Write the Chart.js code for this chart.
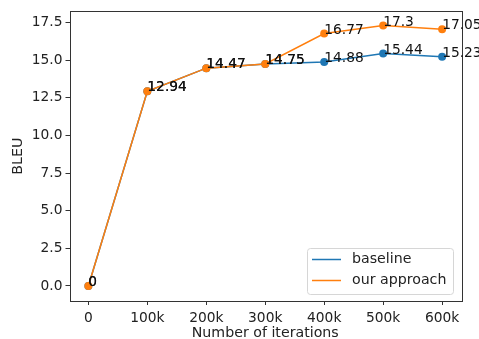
<!DOCTYPE html>
<html>
<head>
<meta charset="utf-8">
<script src="https://cdn.jsdelivr.net/npm/chart.js@4"></script>
<style>
  html, body { margin: 0; padding: 0; background: #fff; }
  #wrap { width: 479px; height: 339px; }
</style>
</head>
<body>
<div id="wrap"><canvas id="chart" width="479" height="339"></canvas></div>
<script>
// values
const iterations = [0, 100000, 200000, 300000, 400000, 500000, 600000];
const baseline = [0, 12.94, 14.47, 14.75, 14.88, 15.44, 15.23];
const ourApproach = [0, 12.94, 14.47, 14.75, 16.77, 17.3, 17.05];
const xTicks = [0, 100000, 200000, 300000, 400000, 500000, 600000];
const yTicks = [0, 2.5, 5, 7.5, 10, 12.5, 15, 17.5];

const FONT = 'DejaVu Sans';
const BLUE = '#1f77b4';
const ORANGE = '#ff7f0e';

const toPoints = (ys) => iterations.map((x, i) => ({ x: x, y: ys[i] }));

// frame, value labels and legend, drawn like matplotlib does
const extras = {
  id: 'extras',
  afterDatasetsDraw(chart) {
    const ctx = chart.ctx;
    const a = chart.chartArea;
    const xs = chart.scales.x, ys = chart.scales.y;
    ctx.save();
    ctx.strokeStyle = '#333';
    ctx.lineWidth = 1;
    ctx.strokeRect(Math.round(a.left) + 0.5, Math.round(a.top) + 0.5,
      Math.round(a.right - a.left), Math.round(a.bottom - a.top));

    ctx.font = '13.8px ' + FONT;
    ctx.fillStyle = '#111';
    ctx.textAlign = 'left';
    ctx.textBaseline = 'alphabetic';
    chart.data.datasets.forEach(ds => {
      ds.data.forEach(p => {
        ctx.fillText(String(p.y), xs.getPixelForValue(p.x), ys.getPixelForValue(p.y));
      });
    });

    // legend, lower right
    const bx = 307, by = 248, bw = 146, bh = 46;
    ctx.beginPath();
    ctx.roundRect(bx + 0.5, by + 0.5, bw, bh, 3);
    ctx.fillStyle = 'rgba(255,255,255,0.8)';
    ctx.fill();
    ctx.strokeStyle = '#d6d6d6';
    ctx.stroke();
    ctx.font = '14.2px ' + FONT;
    ctx.textBaseline = 'middle';
    chart.data.datasets.forEach((ds, i) => {
      const yy = by + 11.5 + i * 21;
      ctx.strokeStyle = ds.borderColor;
      ctx.lineWidth = 1.5;
      ctx.beginPath();
      ctx.moveTo(bx + 5, yy);
      ctx.lineTo(bx + 34, yy);
      ctx.stroke();
      ctx.fillStyle = '#222';
      ctx.fillText(ds.label, bx + 45, yy);
    });
    ctx.restore();
  }
};

new Chart(document.getElementById('chart'), {
  type: 'line',
  data: {
    datasets: [
      {
        label: 'baseline',
        data: toPoints(baseline),
        borderColor: BLUE,
        backgroundColor: BLUE,
        borderWidth: 1.5,
        pointRadius: 4,
        pointBorderWidth: 0,
        tension: 0,
        order: 1
      },
      {
        label: 'our approach',
        data: toPoints(ourApproach),
        borderColor: ORANGE,
        backgroundColor: ORANGE,
        borderWidth: 1.5,
        pointRadius: 4,
        pointBorderWidth: 0,
        tension: 0,
        order: 0
      }
    ]
  },
  options: {
    responsive: false,
    animation: false,
    events: [],
    layout: { padding: { top: 10, right: 18, left: 0, bottom: 0 } },
    plugins: { legend: { display: false }, tooltip: { enabled: false } },
    scales: {
      x: {
        type: 'linear',
        min: -32000,
        max: 632000,
        afterBuildTicks: (axis) => { axis.ticks = xTicks.map(v => ({ value: v })); },
        afterFit: (axis) => { axis.height = 38; },
        grid: { drawOnChartArea: false, drawTicks: true, tickLength: 4, color: '#333' },
        border: { display: false },
        ticks: {
          color: '#222',
          font: { family: FONT, size: 13.8 },
          padding: 5,
          maxRotation: 0,
          callback: (v) => v === 0 ? '0' : (v / 1000) + 'k'
        },
        title: {
          display: true,
          text: 'Number of iterations',
          color: '#222',
          font: { family: FONT, size: 14.2 },
          padding: { top: 0, bottom: -2.5 }
        }
      },
      y: {
        min: -1.0,
        max: 18.25,
        afterBuildTicks: (axis) => { axis.ticks = yTicks.map(v => ({ value: v })); },
        afterFit: (axis) => { axis.width = 69.5; },
        grid: { drawOnChartArea: false, drawTicks: true, tickLength: 4, color: '#333' },
        border: { display: false },
        ticks: {
          color: '#222',
          font: { family: FONT, size: 13.8 },
          padding: 3,
          callback: (v) => v.toFixed(1)
        },
        title: {
          display: true,
          text: 'BLEU',
          color: '#222',
          font: { family: FONT, size: 14.2 },
          padding: { top: 10, bottom: 4 }
        }
      }
    }
  },
  plugins: [extras]
});
</script>
</body>
</html>
